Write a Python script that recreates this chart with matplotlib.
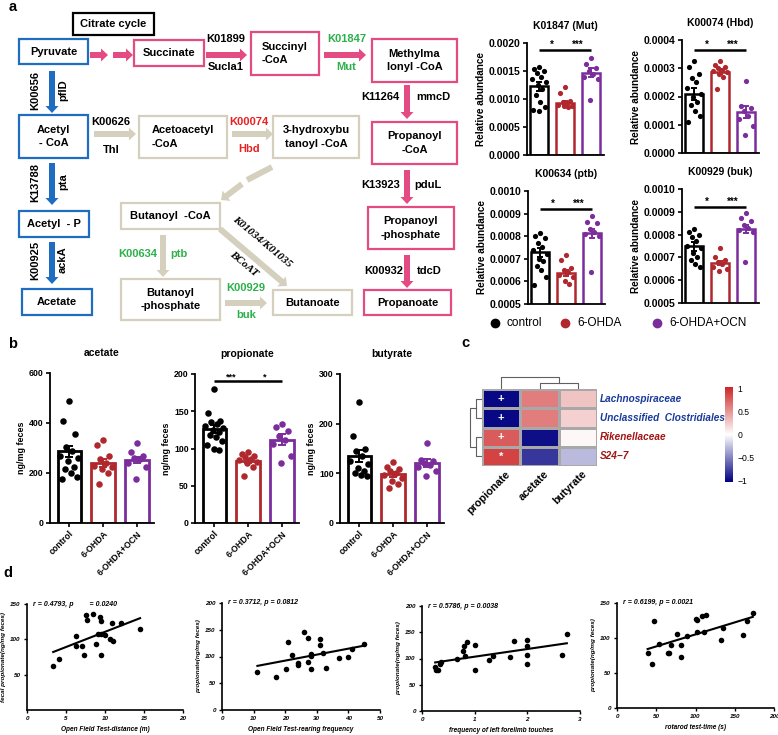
import numpy as np
import matplotlib
matplotlib.use('Agg')
import matplotlib.pyplot as plt
from matplotlib.patches import Rectangle, FancyArrow
from matplotlib.colors import LinearSegmentedColormap
from matplotlib.ticker import FormatStrFormatter

plt.rcParams['font.family'] = ['Liberation Sans', 'DejaVu Sans']
plt.rcParams['axes.linewidth'] = 1.3

# ---------------- data ----------------
groups = ['control', '6-OHDA', '6-OHDA+OCN']
group_colors = ['#000000', '#B0282E', '#7B2D9C']

# panel a: relative abundance of KEGG orthologs
ko_titles = ['K01847 (Mut)', 'K00074 (Hbd)', 'K00634 (ptb)', 'K00929 (buk)']
mut_means = [0.00123, 0.00093, 0.00147]
mut_sems = [0.00008, 0.00003, 0.00008]
mut_pts = [[0.00157, 0.00154, 0.00150, 0.00147, 0.00140, 0.00135, 0.00130, 0.00125, 0.00118, 0.00107, 0.00095, 0.00085, 0.00080, 0.00078],
           [0.00121, 0.00110, 0.00097, 0.00094, 0.00092, 0.00090, 0.00088, 0.00087, 0.00086],
           [0.00174, 0.00163, 0.00156, 0.00150, 0.00145, 0.00140, 0.00136, 0.00099]]
hbd_means = [0.000209, 0.000288, 0.000145]
hbd_sems = [0.000020, 0.000010, 0.000021]
hbd_pts = [[0.000325, 0.000305, 0.000280, 0.000265, 0.000250, 0.000230, 0.000210, 0.000200, 0.000180, 0.000170, 0.000150, 0.000130, 0.000110],
           [0.000325, 0.000312, 0.000305, 0.000300, 0.000295, 0.000290, 0.000285, 0.000280, 0.000270, 0.000225],
           [0.000255, 0.000165, 0.000160, 0.000150, 0.000130, 0.000120, 0.000095, 0.000065]]
ptb_means = [0.000728, 0.000638, 0.000812]
ptb_sems = [0.000020, 0.000012, 0.000020]
ptb_pts = [[0.000815, 0.000800, 0.000790, 0.000770, 0.000750, 0.000740, 0.000720, 0.000700, 0.000690, 0.000670, 0.000650, 0.000620, 0.000582],
           [0.000715, 0.000695, 0.000660, 0.000650, 0.000640, 0.000630, 0.000620, 0.000600, 0.000590],
           [0.000890, 0.000865, 0.000860, 0.000830, 0.000820, 0.000810, 0.000800, 0.000640]]
buk_means = [0.000749, 0.000675, 0.000825]
buk_sems = [0.000019, 0.000010, 0.000018]
buk_pts = [[0.000825, 0.000810, 0.000800, 0.000790, 0.000770, 0.000750, 0.000740, 0.000720, 0.000700, 0.000690, 0.000670, 0.000660],
           [0.000740, 0.000700, 0.000690, 0.000680, 0.000670, 0.000660, 0.000650, 0.000640],
           [0.000895, 0.000875, 0.000860, 0.000840, 0.000830, 0.000820, 0.000810, 0.000680]]
ko_sig_y = [0.00187, 0.000365, 0.000922, 0.000921]
ko_sig_labels = [['*', '***'], ['*', '***'], ['*', '***'], ['*', '***']]

# panel b: SCFA (ng/mg feces)
scfa_titles = ['acetate', 'propionate', 'butyrate']
acetate_means = [287, 241, 253]
acetate_sems = [21, 17, 13]
acetate_pts = [[487, 407, 357, 305, 290, 270, 260, 250, 225, 215, 200, 185, 176],
               [331, 312, 270, 255, 240, 230, 225, 215, 200, 157],
               [321, 285, 270, 260, 255, 240, 225, 175]]
propionate_means = [126, 83, 112]
propionate_sems = [5.5, 3, 7]
propionate_pts = [[180, 147, 137, 135, 133, 130, 128, 125, 122, 118, 115, 110, 105, 100, 98],
                  [95, 92, 90, 88, 86, 84, 82, 80, 75, 63],
                  [133, 129, 124, 117, 112, 106, 90, 80]]
butyrate_means = [135, 98, 121]
butyrate_sems = [12, 5, 8]
butyrate_pts = [[244, 175, 150, 145, 135, 125, 118, 110, 105, 100, 97, 94],
                [122, 113, 108, 104, 100, 96, 90, 85, 79, 70],
                [162, 127, 124, 120, 116, 112, 105, 94]]

# panel c: correlation heatmap
hm_rows = ['Lachnospiraceae', 'Unclassified  Clostridiales', 'Rikenellaceae', 'S24\u22127']
hm_row_colors = ['#1A3A9A', '#1A3A9A', '#A31515', '#A31515']
hm_cols = ['propionate', 'acetate', 'butyrate']
hm_values = [[-1.00, 0.62, 0.28],
             [-1.00, 0.62, 0.22],
             [0.78, -0.98, 0.04],
             [0.90, -0.82, -0.28]]
hm_marks = [['+', '', ''], ['+', '', ''], ['+', '', ''], ['*', '', '']]

# panel d: correlations
d1_x = [3.36, 4.09, 6.26, 6.34, 7.1, 7.3, 7.6, 7.7, 8.5, 8.8, 9.3, 9.5, 9.15, 9.5, 9.5, 9.96, 10.6, 11.0, 10.9, 12.1, 14.5]
d1_y = [62.7, 72.6, 91, 104.2, 90, 77.8, 134, 128, 135.4, 93.9, 131.6, 126, 107.5, 107.5, 78.3, 106.6, 100.5, 98, 123.6, 123, 115]
d2_x = [11.2, 17.2, 20.1, 21, 22.1, 24.1, 24.1, 26, 27.1, 27.1, 28.1, 28.1, 28.2, 31, 31, 32.1, 33, 37, 40, 41, 44.8]
d2_y = [71, 62, 77, 127, 102.5, 88.6, 83.5, 145, 134, 89, 104, 77, 101, 132, 122, 107, 78, 97, 99, 114, 123]
d3_x = [0.25, 0.26, 0.3, 0.35, 0.37, 0.67, 0.78, 0.8, 0.81, 0.86, 1.0, 1.0, 1.28, 1.35, 1.67, 1.75, 2.0, 2.0, 2.0, 2.0, 2.66, 2.75]
d3_y = [83.4, 77.7, 77.7, 90, 93.6, 99, 115, 123, 105, 132, 125.5, 79, 97.5, 104.5, 103, 134, 135, 123, 107.6, 89, 107, 146]
d4_x = [39, 44, 47.5, 53.4, 64.4, 66.5, 69, 77, 81, 81.4, 89.4, 101, 102, 102, 108, 114, 111, 135.6, 132, 160, 165, 173]
d4_y = [78, 62.4, 123.8, 91, 79, 78, 90.5, 106, 72.8, 90.5, 103.3, 127.6, 126, 108, 131, 133, 108, 115, 97, 104, 124, 135.7]
d_stats = ['r = 0.4793, p        = 0.0240', 'r = 0.3712, p = 0.0812',
           'r = 0.5786, p = 0.0038', 'r = 0.6199, p = 0.0021']
d_xlabels = ['Open Field Test-distance (m)', 'Open Field Test-rearing frequency',
             'frequency of left forelimb touches', 'rotarod test-time (s)']
d_ylabels = ['fecal propionate(ng/mg feces)', 'propionate(ng/mg feces)',
             'propionate(ng/mg feces)', 'propionate(ng/mg feces)']

# ---------------- figure ----------------
W, H = 778, 735
fig = plt.figure(figsize=(W / 100, H / 100), dpi=100)


def ax_px(l, t, r, b):
    return fig.add_axes([l / W, 1 - b / H, (r - l) / W, (b - t) / H])


ov = fig.add_axes([0, 0, 1, 1])
ov.set_xlim(0, W)
ov.set_ylim(H, 0)
ov.axis('off')

# panel letters
for letter, (lx, ly) in zip('abcd', [(13, 7), (13, 344), (465, 343), (8, 573)]):
    ov.text(lx, ly, letter, fontsize=10.5, fontweight='bold', ha='center', va='center')

# ---- pathway diagram ----
BLUE = '#1F6DC1'
PINK = '#E34B82'
BEIGE = '#D5D0BE'
GREEN = '#2BB04A'
RED = '#E82020'

boxes = [
    ('Citrate cycle', (73, 13, 154, 35), 'black', 'center'),
    ('Pyruvate', (19, 39, 88, 64), BLUE, 'center'),
    ('Acetyl\n- CoA', (19, 115, 88, 158), BLUE, 'center'),
    ('Acetyl  - P', (19, 211, 89, 237), BLUE, 'center'),
    ('Acetate', (22, 289, 92, 315), BLUE, 'center'),
    ('Succinate', (134, 40, 204, 66), PINK, 'center'),
    ('Succinyl\n-CoA', (251, 32, 319, 75), PINK, 'left'),
    ('Methylma\nlonyl -CoA', (372, 39, 457, 82), PINK, 'center'),
    ('Propanoyl\n-CoA', (372, 122, 457, 164), PINK, 'center'),
    ('Propanoyl\n-phosphate', (368, 207, 454, 249), PINK, 'center'),
    ('Propanoate', (364, 290, 451, 315), PINK, 'center'),
    ('Acetoacetyl\n-CoA', (139, 116, 227, 158), BEIGE, 'left'),
    ('3-hydroxybu\ntanoyl -CoA', (273, 116, 359, 158), BEIGE, 'center'),
    ('Butanoyl  -CoA', (121, 203, 220, 229), BEIGE, 'center'),
    ('Butanoyl\n-phosphate', (121, 279, 220, 320), BEIGE, 'center'),
    ('Butanoate', (273, 290, 352, 315), BEIGE, 'center'),
]
for label, (x0, y0, x1, y1), ec, ma in boxes:
    ov.add_patch(Rectangle((x0, y0), x1 - x0, y1 - y0, fill=False, ec=ec, lw=1.6))
    ov.text((x0 + x1) / 2, (y0 + y1) / 2, label, ha='center', va='center', multialignment=ma,
            fontsize=8, fontweight='bold', linespacing=1.45)

arrows = [
    (90, 55, 18, 0, PINK), (113, 55, 20, 0, PINK), (206, 55, 41, 0, PINK), (324, 55, 42, 0, PINK),
    (407, 85, 0, 34, PINK), (407, 170, 0, 34, PINK), (407, 255, 0, 33, PINK),
    (52, 71, 0, 42, BLUE), (52, 163, 0, 42, BLUE), (52, 242, 0, 42, BLUE),
    (94, 134, 42, 0, BEIGE), (232, 134, 41, 0, BEIGE), (163, 235, 0, 42, BEIGE),
    (225, 303, 42, 0, BEIGE), (220, 229, 67, 57, BEIGE), (242, 184, -21, 16, BEIGE),
]
for x, y, dx, dy, c in arrows:
    ov.add_patch(FancyArrow(x, y, dx, dy, width=6, head_width=13, head_length=7,
                            length_includes_head=True, color=c, lw=0))
ov.add_patch(FancyArrow(272, 167, -25, 13, width=6, head_width=0.01, head_length=0.01,
                        length_includes_head=True, color=BEIGE, lw=0))

klabels = [
    ('K01899', 226, 39, 'black', 0), ('Sucla1', 226, 67, 'black', 0),
    ('K01847', 347, 39, GREEN, 0), ('Mut', 346, 67, GREEN, 0),
    ('K11264', 380, 97, 'black', 0), ('mmcD', 433, 97, 'black', 0),
    ('K13923', 381, 185, 'black', 0), ('pduL', 428, 185, 'black', 0),
    ('K00932', 384, 271, 'black', 0), ('tdcD', 429, 271, 'black', 0),
    ('K00656', 35, 90, 'black', 90), ('pflD', 63, 90, 'black', 90),
    ('K13788', 35, 182, 'black', 90), ('pta', 63, 182, 'black', 90),
    ('K00925', 35, 260, 'black', 90), ('ackA', 63, 260, 'black', 90),
    ('K00626', 111, 122, 'black', 0), ('Thl', 111, 150, 'black', 0),
    ('K00074', 249, 122, RED, 0), ('Hbd', 249, 149, RED, 0),
    ('K00634', 138, 254, GREEN, 0), ('ptb', 179, 254, GREEN, 0),
    ('K00929', 246, 288, GREEN, 0), ('buk', 246, 315, GREEN, 0),
]
for t, x, y, c, rot in klabels:
    ov.text(x, y, t, color=c, rotation=rot, ha='center', va='center', fontsize=8, fontweight='bold')
ov.text(262, 242, 'K01034/K01035', rotation=-40, ha='center', va='center', fontsize=8,
        family='Liberation Serif', style='italic', fontweight='bold')
ov.text(244, 264, 'BCoAT', rotation=-40, ha='center', va='center', fontsize=8,
        family='Liberation Serif', style='italic', fontweight='bold')


def bold_ticks(ax, italic=False):
    for lab in ax.get_xticklabels() + ax.get_yticklabels():
        lab.set_fontweight('bold')
        if italic:
            lab.set_style('italic')


def offsets(n, scale):
    pattern = np.array([0, -0.6, 0.6, -0.3, 0.3, -0.9, 0.9, -0.15, 0.45, -0.45, 0.15, 0.75, -0.75, 0.0, 0.5])
    return np.resize(pattern, n) * scale


def bar_plot(ax, means, sems, pts, bw, s, elw, cap):
    for i in range(3):
        ax.bar(i, means[i], width=bw, facecolor='white', edgecolor=group_colors[i], linewidth=elw, zorder=1)
        p = np.array(pts[i])
        ax.scatter(i + offsets(len(p), bw * 0.42), p, s=s, color=group_colors[i], lw=0, zorder=2)
        ax.errorbar(i, means[i], yerr=sems[i], color=group_colors[i], capsize=cap, lw=1.4,
                    capthick=1.4, zorder=3)
    for sp in ['top', 'right']:
        ax.spines[sp].set_visible(False)


def sig(ax, y, labels, fs=7):
    ax.plot([0, 2], [y, y], color='black', lw=1.8, solid_capstyle='butt')
    ax.plot([1, 1], [y, y], color='black', lw=1)
    ax.text(0.5, y, labels[0], ha='center', va='bottom', fontsize=fs, fontweight='bold')
    ax.text(1.5, y, labels[1], ha='center', va='bottom', fontsize=fs, fontweight='bold')


# ---- KO bar charts ----
ko_rects = [(527, 43, 604, 155), (682, 40, 759, 153), (528, 191, 605, 304), (682, 189, 759, 303)]
ko_data = [(mut_means, mut_sems, mut_pts), (hbd_means, hbd_sems, hbd_pts),
           (ptb_means, ptb_sems, ptb_pts), (buk_means, buk_sems, buk_pts)]
ko_ylims = [(0, 0.002), (0, 0.0004), (0.0005, 0.001), (0.0005, 0.001)]
ko_steps = [0.0005, 0.0001, 0.0001, 0.0001]
for k in range(4):
    ax = ax_px(*ko_rects[k])
    ax.patch.set_alpha(0)
    m, se, p = ko_data[k]
    bar_plot(ax, m, se, p, 0.7, 14, 1.8, 2.5)
    sig(ax, ko_sig_y[k], ko_sig_labels[k])
    ax.set_xlim(-0.46, 2.5)
    lo, hi = ko_ylims[k]
    ax.set_ylim(lo, hi)
    ax.set_yticks(np.arange(lo, hi + 1e-9, ko_steps[k]))
    ax.yaxis.set_major_formatter(FormatStrFormatter('%.4f'))
    ax.set_xticks([])
    ax.tick_params(axis='y', length=3, width=1.2, labelsize=7.5, pad=1.5)
    bold_ticks(ax)
    ax.set_ylabel('Relative abundance', fontsize=7.2, fontweight='bold', labelpad=2)
    ax.set_title(ko_titles[k], fontsize=7.5, fontweight='bold', pad=10)

# legend row
leg_x = [(495, 507), (565, 577), (657, 669)]
for i, g in enumerate(groups):
    ov.plot(leg_x[i][0], 323, 'o', ms=6, color=group_colors[i])
    ov.text(leg_x[i][1], 323, g, fontsize=8.5, ha='left', va='center')

# ---- SCFA bar charts ----
scfa_rects = [(50, 373, 154, 523), (195, 374, 299, 523), (340, 374, 444, 523)]
scfa_data = [(acetate_means, acetate_sems, acetate_pts), (propionate_means, propionate_sems, propionate_pts),
             (butyrate_means, butyrate_sems, butyrate_pts)]
scfa_ticks = [[0, 200, 400, 600], [0, 50, 100, 150, 200], [0, 100, 200, 300]]
for k in range(3):
    ax = ax_px(*scfa_rects[k])
    ax.patch.set_alpha(0)
    m, se, p = scfa_data[k]
    bar_plot(ax, m, se, p, 0.69, 22, 2.0, 3)
    if k == 1:
        sig(ax, 190, ['***', '*'], fs=6.5)
    ax.set_xlim(-0.57, 2.5)
    ax.set_ylim(0, scfa_ticks[k][-1])
    ax.set_yticks(scfa_ticks[k])
    ax.set_xticks(range(3))
    ax.set_xticklabels(groups, rotation=45, ha='right', rotation_mode='anchor')
    ax.tick_params(length=3, width=1.2, labelsize=6.3, pad=1.5)
    bold_ticks(ax)
    ax.set_ylabel('ng/mg feces', fontsize=6.4, fontweight='bold', labelpad=2)
    ax.set_title(scfa_titles[k], fontsize=7.5, fontweight='bold', pad=12)

# ---- heatmap ----
cmap = LinearSegmentedColormap.from_list('nwf', ['#000080', '#FFFFFF', '#CD2626'])
hax = ax_px(482, 389, 597, 466)
vals = np.array(hm_values)
mesh = hax.pcolormesh(vals, cmap=cmap, vmin=-1.04, vmax=1.04, edgecolors='#A8A8A8', linewidth=0.8)
hax.set_xlim(0, 3)
hax.set_ylim(4, 0)
hax.axis('off')
for i in range(4):
    for j in range(3):
        if hm_marks[i][j]:
            hax.text(j + 0.5, i + 0.5, hm_marks[i][j], color='white', ha='center', va='center',
                     fontsize=8, fontweight='bold')
    hax.text(3.08, i + 0.5, hm_rows[i], color=hm_row_colors[i], ha='left', va='center',
             fontsize=7.2, fontweight='bold', style='italic', clip_on=False)
for j in range(3):
    hax.text(j + 0.6, 4.15, hm_cols[j], rotation=45, ha='right', va='top', rotation_mode='anchor',
             fontsize=7.8, fontweight='bold', clip_on=False)
# dendrograms
dcol = '#606060'
ov.plot([540, 540, 578, 578], [389, 383, 383, 389], color=dcol, lw=0.8)
ov.plot([501, 501, 559, 559], [389, 377, 377, 383], color=dcol, lw=0.8)
ov.plot([482, 476, 476, 482], [398.6, 398.6, 417.9, 417.9], color=dcol, lw=0.8)
ov.plot([482, 476, 476, 482], [437.1, 437.1, 456.4, 456.4], color=dcol, lw=0.8)
ov.plot([476, 470, 470, 476], [408.2, 408.2, 446.8, 446.8], color=dcol, lw=0.8)
cax = ax_px(725, 387, 733, 482)
cb = fig.colorbar(mesh, cax=cax, ticks=[-1, -0.5, 0, 0.5, 1])
cb.outline.set_visible(False)
cb.set_ticklabels(['\u22121', '\u22120.5', '0', '0.5', '1'])
cax.tick_params(length=0, labelsize=6.2, pad=3)

# ---- scatter plots ----
d_rects = [(27, 604, 183, 710), (222, 603, 380, 710), (422, 606, 580, 711), (617, 603, 774, 708)]
d_data = [(d1_x, d1_y), (d2_x, d2_y), (d3_x, d3_y), (d4_x, d4_y)]
d_xlims = [(0, 20), (0, 50), (0, 3), (0, 200)]
d_xticks = [[0, 5, 10, 15, 20], [0, 10, 20, 30, 40, 50], [0, 1, 2, 3], [0, 50, 100, 150, 200]]
d_ylims = [(0, 150), (0, 200), (0, 200), (0, 150)]
d_yticks = [[50, 100, 150], [0, 50, 100, 150, 200], [0, 50, 100, 150, 200], [0, 50, 100, 150]]
for k in range(4):
    ax = ax_px(*d_rects[k])
    ax.patch.set_alpha(0)
    x = np.array(d_data[k][0])
    y = np.array(d_data[k][1])
    ax.scatter(x, y, s=16, color='black', lw=0, zorder=3)
    a, b = np.polyfit(x, y, 1)
    xx = np.array([x.min(), x.max()])
    ax.plot(xx, a * xx + b, color='black', lw=1.5)
    ax.set_xlim(*d_xlims[k])
    ax.set_ylim(*d_ylims[k])
    ax.set_xticks(d_xticks[k])
    ax.set_yticks(d_yticks[k])
    for sp in ['top', 'right']:
        ax.spines[sp].set_visible(False)
    ax.spines['left'].set_linewidth(1.2)
    ax.spines['bottom'].set_linewidth(1.2)
    ax.tick_params(length=2.5, width=1, labelsize=4.5, pad=2)
    bold_ticks(ax, italic=True)
    ax.set_xlabel(d_xlabels[k], fontsize=4.7, fontweight='bold', style='italic', labelpad=3.5)
    ax.set_ylabel(d_ylabels[k], fontsize=4.6, fontweight='bold', style='italic', labelpad=3)
    ax.text(0.04, 1.0, d_stats[k], transform=ax.transAxes, ha='left', va='center',
            fontsize=5, fontweight='bold', style='italic')

fig.savefig('out.png', dpi=100)
